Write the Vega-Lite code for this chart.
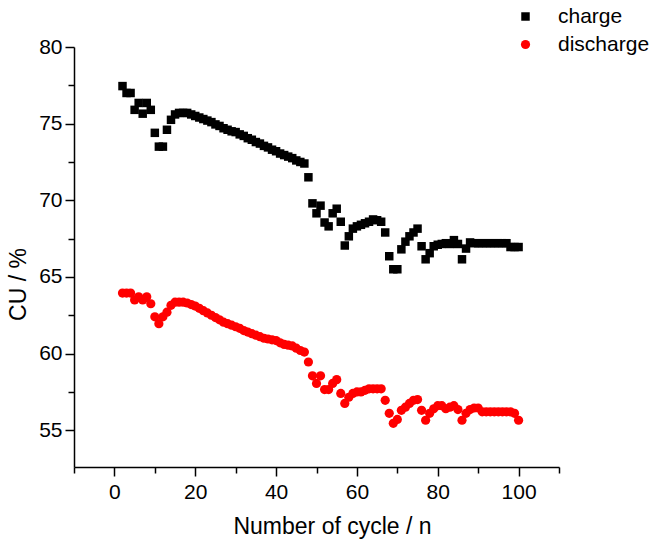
{
 "$schema": "https://vega.github.io/schema/vega-lite/v6.json",
 "width": 485,
 "height": 420,
 "autosize": {"type": "none"},
 "padding": {"left": 74, "top": 47, "right": 93, "bottom": 74},
 "background": "white",
 "config": {"view": {"stroke": null}, "font": "Liberation Sans"},
 "data": {"values": [
  {"n":2,"s":"charge","cu":77.45},{"n":3,"s":"charge","cu":77.0},{"n":4,"s":"charge","cu":77.0},{"n":5,"s":"charge","cu":75.9},{"n":6,"s":"charge","cu":76.35},{"n":7,"s":"charge","cu":75.65},{"n":8,"s":"charge","cu":76.35},{"n":9,"s":"charge","cu":75.9},{"n":10,"s":"charge","cu":74.4},{"n":11,"s":"charge","cu":73.5},
  {"n":12,"s":"charge","cu":73.5},{"n":13,"s":"charge","cu":74.6},{"n":14,"s":"charge","cu":75.25},{"n":15,"s":"charge","cu":75.6},{"n":16,"s":"charge","cu":75.7},{"n":17,"s":"charge","cu":75.7},{"n":18,"s":"charge","cu":75.7},{"n":19,"s":"charge","cu":75.6},{"n":20,"s":"charge","cu":75.5},{"n":21,"s":"charge","cu":75.4},
  {"n":22,"s":"charge","cu":75.3},{"n":23,"s":"charge","cu":75.2},{"n":24,"s":"charge","cu":75.1},{"n":25,"s":"charge","cu":74.95},{"n":26,"s":"charge","cu":74.85},{"n":27,"s":"charge","cu":74.7},{"n":28,"s":"charge","cu":74.6},{"n":29,"s":"charge","cu":74.5},{"n":30,"s":"charge","cu":74.45},{"n":31,"s":"charge","cu":74.3},
  {"n":32,"s":"charge","cu":74.2},{"n":33,"s":"charge","cu":74.05},{"n":34,"s":"charge","cu":73.95},{"n":35,"s":"charge","cu":73.8},{"n":36,"s":"charge","cu":73.7},{"n":37,"s":"charge","cu":73.55},{"n":38,"s":"charge","cu":73.45},{"n":39,"s":"charge","cu":73.3},{"n":40,"s":"charge","cu":73.2},{"n":41,"s":"charge","cu":73.05},
  {"n":42,"s":"charge","cu":72.95},{"n":43,"s":"charge","cu":72.85},{"n":44,"s":"charge","cu":72.75},{"n":45,"s":"charge","cu":72.6},{"n":46,"s":"charge","cu":72.5},{"n":47,"s":"charge","cu":72.4},{"n":48,"s":"charge","cu":71.5},{"n":49,"s":"charge","cu":69.8},{"n":50,"s":"charge","cu":69.15},{"n":51,"s":"charge","cu":69.65},
  {"n":52,"s":"charge","cu":68.55},{"n":53,"s":"charge","cu":68.3},{"n":54,"s":"charge","cu":69.15},{"n":55,"s":"charge","cu":69.45},{"n":56,"s":"charge","cu":68.6},{"n":57,"s":"charge","cu":67.05},{"n":58,"s":"charge","cu":67.65},{"n":59,"s":"charge","cu":68.15},{"n":60,"s":"charge","cu":68.3},{"n":61,"s":"charge","cu":68.4},
  {"n":62,"s":"charge","cu":68.5},{"n":63,"s":"charge","cu":68.6},{"n":64,"s":"charge","cu":68.75},{"n":65,"s":"charge","cu":68.7},{"n":66,"s":"charge","cu":68.6},{"n":67,"s":"charge","cu":67.9},{"n":68,"s":"charge","cu":66.35},{"n":69,"s":"charge","cu":65.5},{"n":70,"s":"charge","cu":65.5},{"n":71,"s":"charge","cu":66.8},
  {"n":72,"s":"charge","cu":67.3},{"n":73,"s":"charge","cu":67.65},{"n":74,"s":"charge","cu":67.9},{"n":75,"s":"charge","cu":68.15},{"n":76,"s":"charge","cu":67.0},{"n":77,"s":"charge","cu":66.15},{"n":78,"s":"charge","cu":66.55},{"n":79,"s":"charge","cu":67.0},{"n":80,"s":"charge","cu":67.1},{"n":81,"s":"charge","cu":67.15},
  {"n":82,"s":"charge","cu":67.2},{"n":83,"s":"charge","cu":67.15},{"n":84,"s":"charge","cu":67.4},{"n":85,"s":"charge","cu":67.15},{"n":86,"s":"charge","cu":66.15},{"n":87,"s":"charge","cu":66.85},{"n":88,"s":"charge","cu":67.25},{"n":89,"s":"charge","cu":67.2},{"n":90,"s":"charge","cu":67.2},{"n":91,"s":"charge","cu":67.2},
  {"n":92,"s":"charge","cu":67.2},{"n":93,"s":"charge","cu":67.2},{"n":94,"s":"charge","cu":67.2},{"n":95,"s":"charge","cu":67.2},{"n":96,"s":"charge","cu":67.2},{"n":97,"s":"charge","cu":67.2},{"n":98,"s":"charge","cu":66.95},{"n":99,"s":"charge","cu":66.95},{"n":100,"s":"charge","cu":66.95},
  {"n":2,"s":"discharge","cu":63.95},{"n":3,"s":"discharge","cu":63.95},{"n":4,"s":"discharge","cu":63.95},{"n":5,"s":"discharge","cu":63.5},{"n":6,"s":"discharge","cu":63.7},{"n":7,"s":"discharge","cu":63.5},{"n":8,"s":"discharge","cu":63.7},{"n":9,"s":"discharge","cu":63.25},{"n":10,"s":"discharge","cu":62.4},{"n":11,"s":"discharge","cu":61.95},
  {"n":12,"s":"discharge","cu":62.4},{"n":13,"s":"discharge","cu":62.7},{"n":14,"s":"discharge","cu":63.15},{"n":15,"s":"discharge","cu":63.35},{"n":16,"s":"discharge","cu":63.35},{"n":17,"s":"discharge","cu":63.35},{"n":18,"s":"discharge","cu":63.3},{"n":19,"s":"discharge","cu":63.2},{"n":20,"s":"discharge","cu":63.1},{"n":21,"s":"discharge","cu":62.95},
  {"n":22,"s":"discharge","cu":62.8},{"n":23,"s":"discharge","cu":62.65},{"n":24,"s":"discharge","cu":62.5},{"n":25,"s":"discharge","cu":62.35},{"n":26,"s":"discharge","cu":62.2},{"n":27,"s":"discharge","cu":62.05},{"n":28,"s":"discharge","cu":61.95},{"n":29,"s":"discharge","cu":61.85},{"n":30,"s":"discharge","cu":61.75},{"n":31,"s":"discharge","cu":61.65},
  {"n":32,"s":"discharge","cu":61.5},{"n":33,"s":"discharge","cu":61.4},{"n":34,"s":"discharge","cu":61.3},{"n":35,"s":"discharge","cu":61.2},{"n":36,"s":"discharge","cu":61.1},{"n":37,"s":"discharge","cu":61.0},{"n":38,"s":"discharge","cu":60.95},{"n":39,"s":"discharge","cu":60.9},{"n":40,"s":"discharge","cu":60.85},{"n":41,"s":"discharge","cu":60.7},
  {"n":42,"s":"discharge","cu":60.6},{"n":43,"s":"discharge","cu":60.55},{"n":44,"s":"discharge","cu":60.5},{"n":45,"s":"discharge","cu":60.35},{"n":46,"s":"discharge","cu":60.2},{"n":47,"s":"discharge","cu":60.1},{"n":48,"s":"discharge","cu":59.45},{"n":49,"s":"discharge","cu":58.55},{"n":50,"s":"discharge","cu":58.05},{"n":51,"s":"discharge","cu":58.55},
  {"n":52,"s":"discharge","cu":57.65},{"n":53,"s":"discharge","cu":57.65},{"n":54,"s":"discharge","cu":58.05},{"n":55,"s":"discharge","cu":58.3},{"n":56,"s":"discharge","cu":57.4},{"n":57,"s":"discharge","cu":56.75},{"n":58,"s":"discharge","cu":57.15},{"n":59,"s":"discharge","cu":57.4},{"n":60,"s":"discharge","cu":57.5},{"n":61,"s":"discharge","cu":57.5},
  {"n":62,"s":"discharge","cu":57.6},{"n":63,"s":"discharge","cu":57.7},{"n":64,"s":"discharge","cu":57.7},{"n":65,"s":"discharge","cu":57.7},{"n":66,"s":"discharge","cu":57.7},{"n":67,"s":"discharge","cu":56.95},{"n":68,"s":"discharge","cu":56.1},{"n":69,"s":"discharge","cu":55.45},{"n":70,"s":"discharge","cu":55.7},{"n":71,"s":"discharge","cu":56.3},
  {"n":72,"s":"discharge","cu":56.5},{"n":73,"s":"discharge","cu":56.75},{"n":74,"s":"discharge","cu":56.95},{"n":75,"s":"discharge","cu":57.0},{"n":76,"s":"discharge","cu":56.3},{"n":77,"s":"discharge","cu":55.65},{"n":78,"s":"discharge","cu":56.1},{"n":79,"s":"discharge","cu":56.4},{"n":80,"s":"discharge","cu":56.6},{"n":81,"s":"discharge","cu":56.6},
  {"n":82,"s":"discharge","cu":56.4},{"n":83,"s":"discharge","cu":56.5},{"n":84,"s":"discharge","cu":56.6},{"n":85,"s":"discharge","cu":56.35},{"n":86,"s":"discharge","cu":55.65},{"n":87,"s":"discharge","cu":56.1},{"n":88,"s":"discharge","cu":56.35},{"n":89,"s":"discharge","cu":56.45},{"n":90,"s":"discharge","cu":56.45},{"n":91,"s":"discharge","cu":56.2},
  {"n":92,"s":"discharge","cu":56.2},{"n":93,"s":"discharge","cu":56.2},{"n":94,"s":"discharge","cu":56.2},{"n":95,"s":"discharge","cu":56.2},{"n":96,"s":"discharge","cu":56.2},{"n":97,"s":"discharge","cu":56.2},{"n":98,"s":"discharge","cu":56.2},{"n":99,"s":"discharge","cu":56.1},{"n":100,"s":"discharge","cu":55.65}
 ]},
 "mark": {"type": "point", "filled": true, "opacity": 1, "strokeWidth": 0},
 "encoding": {
  "x": {
   "field": "n", "type": "quantitative",
   "scale": {"domain": [-10, 110], "nice": false, "zero": false},
   "axis": {
    "values": [-10, 0, 10, 20, 30, 40, 50, 60, 70, 80, 90, 100, 110],
    "labelExpr": "datum.value % 20 === 0 ? datum.label : ''",
    "tickSize": {"condition": {"test": "datum.value % 20 === 0", "value": 9}, "value": 6},
    "title": "Number of cycle / n",
    "titleFontSize": 23, "titleFontWeight": "normal", "titlePadding": 13, "titleX": 258,
    "labelFontSize": 21, "labelPadding": 5, "labelFlush": false,
    "domainColor": "black", "tickColor": "black", "labelColor": "black", "titleColor": "black",
    "domainWidth": 1.5, "tickWidth": 1.5, "grid": false
   }
  },
  "y": {
   "field": "cu", "type": "quantitative",
   "scale": {"domain": [52.6, 80], "nice": false, "zero": false},
   "axis": {
    "values": [55, 57.5, 60, 62.5, 65, 67.5, 70, 72.5, 75, 77.5, 80],
    "labelExpr": "datum.value % 5 === 0 ? datum.label : ''",
    "tickSize": {"condition": {"test": "datum.value % 5 === 0", "value": 9}, "value": 6},
    "title": "CU / %",
    "titleFontSize": 23, "titleFontWeight": "normal", "titlePadding": 8, "titleY": 237,
    "labelFontSize": 21, "labelPadding": 3, "labelFlush": false,
    "domainColor": "black", "tickColor": "black", "labelColor": "black", "titleColor": "black",
    "domainWidth": 1.5, "tickWidth": 1.5, "grid": false
   }
  },
  "shape": {
   "field": "s", "type": "nominal",
   "scale": {"domain": ["charge", "discharge"], "range": ["square", "circle"]},
   "legend": {
    "title": null, "orient": "none", "legendX": 441, "legendY": -41,
    "labelFontSize": 21, "labelColor": "black", "labelOffset": 22,
    "symbolSize": 70, "symbolStrokeWidth": 0, "rowPadding": 6
   }
  },
  "color": {
   "field": "s", "type": "nominal",
   "scale": {"domain": ["charge", "discharge"], "range": ["#000000", "#ff0000"]},
   "legend": {
    "title": null, "orient": "none", "legendX": 441, "legendY": -41,
    "labelFontSize": 21, "labelColor": "black", "labelOffset": 22,
    "symbolSize": 70, "symbolStrokeWidth": 0, "rowPadding": 6
   }
  },
  "size": {
   "field": "s", "type": "nominal",
   "scale": {"domain": ["charge", "discharge"], "range": [72, 85]},
   "legend": null
  }
 }
}
